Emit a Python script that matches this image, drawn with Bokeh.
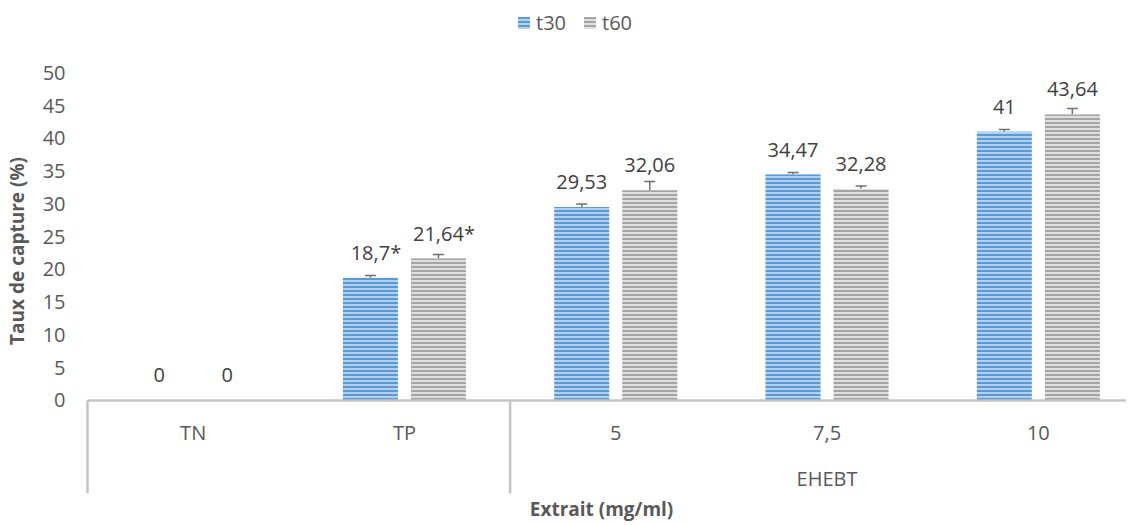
from bokeh.plotting import figure
from bokeh.models import (ColumnDataSource, Range1d, FixedTicker, Whisker, TeeHead,
                          Legend, LegendItem)
from bokeh.core.properties import value
from bokeh.embed import file_html
from bokeh.resources import INLINE

# ---------------- data ----------------
categories = ["TN", "TP", "5", "7,5", "10"]
groups = ["", "", "EHEBT", "EHEBT", "EHEBT"]
t30 = [0, 18.7, 29.53, 34.47, 41]
t60 = [0, 21.64, 32.06, 32.28, 43.64]
t30_err = [0, 0.37, 0.45, 0.30, 0.35]
t60_err = [0, 0.64, 1.35, 0.42, 0.90]
t30_mark = ["", "*", "", "", ""]
t60_mark = ["", "*", "", "", ""]
y_ticks = [0, 5, 10, 15, 20, 25, 30, 35, 40, 45, 50]

FONT = "Open Sans"
TXT = "#595959"
LBL = "#404040"
AXC = "#c4c4c4"

n = len(categories)
centers = [i + 0.5 for i in range(n)]
off = 0.161
bw = 0.26

def fmt(v):
    return f"{v:g}".replace(".", ",")

def make_src(vals, errs, marks, sign):
    return ColumnDataSource(dict(
        x=[c + sign * off for c in centers],
        top=vals,
        upper=[v + e for v, e in zip(vals, errs)],
        has_err=[e > 0 for e in errs],
        label=[fmt(v) + m for v, m in zip(vals, marks)],
        xo=[5.5 if m else 0 for m in marks],
    ))

s30 = make_src(t30, t30_err, t30_mark, -1)
s60 = make_src(t60, t60_err, t60_mark, +1)

frame_left = 82
px_per_unit = 211.3
FW = 1045
x0 = -(88 - frame_left) / px_per_unit
x1 = x0 + FW / px_per_unit

p = figure(frame_width=FW, frame_height=485,
           x_range=Range1d(x0, x1), y_range=Range1d(-14.2, 59.8),
           output_backend="svg", toolbar_location=None,
           min_border_left=0, min_border_right=0, min_border_top=8, min_border_bottom=0)
p.outline_line_color = None
p.xgrid.visible = False
p.ygrid.visible = False
p.background_fill_color = "white"
p.border_fill_color = "white"

# y axis
ya = p.yaxis[0]
ya.ticker = FixedTicker(ticks=y_ticks)
ya.axis_line_color = None
ya.major_tick_line_color = None
ya.minor_tick_line_color = None
ya.major_label_text_font = FONT
ya.major_label_text_font_size = "20px"
ya.major_label_text_color = TXT
ya.major_label_standoff = 10
ya.axis_label = "Taux de capture (%)"
ya.axis_label_text_font = FONT
ya.axis_label_text_font_size = "19px"
ya.axis_label_text_font_style = "bold"
ya.axis_label_text_color = TXT
ya.axis_label_standoff = 10

# x axis (title only)
xa = p.xaxis[0]
xa.ticker = FixedTicker(ticks=[])
xa.axis_line_color = None
xa.major_tick_line_color = None
xa.minor_tick_line_color = None
xa.axis_label = "Extrait  (mg/ml)"
xa.axis_label_text_font = FONT
xa.axis_label_text_font_size = "19px"
xa.axis_label_text_font_style = "bold"
xa.axis_label_text_color = TXT
xa.axis_label_standoff = 2

# bars
r30 = p.vbar(x="x", top="top", width=bw, bottom=0, source=s30,
             fill_color="#b3d0ee", line_color=None,
             hatch_pattern="horizontal_line", hatch_color="#5b9bd5",
             hatch_scale=4, hatch_weight=2)
r60 = p.vbar(x="x", top="top", width=bw, bottom=0, source=s60,
             fill_color="#dedede", line_color=None,
             hatch_pattern="horizontal_line", hatch_color="#a5a5a5",
             hatch_scale=4, hatch_weight=2)

# error bars
for s in (s30, s60):
    idx = [i for i, h in enumerate(s.data["has_err"]) if h]
    es = ColumnDataSource(dict(x=[s.data["x"][i] for i in idx],
                               base=[s.data["top"][i] for i in idx],
                               upper=[s.data["upper"][i] for i in idx]))
    w = Whisker(source=es, base="x", lower="base", upper="upper", dimension="height",
                line_color="#6f6f6f", line_width=1.5,
                upper_head=TeeHead(size=11, line_color="#6f6f6f", line_width=1.5),
                lower_head=None)
    p.add_layout(w)

# value labels
for s in (s30, s60):
    p.text(x="x", y="top", text="label", source=s, text_align="center",
           text_baseline="middle", y_offset=-25, x_offset="xo",
           text_font=value(FONT), text_font_size="20px", text_color=LBL)

# category axis line at 0 and group separators
p.segment(x0=[0], y0=[0], x1=[n], y1=[0], line_color=AXC, line_width=2.5)
bounds = [0] + [i for i in range(1, n) if groups[i] != groups[i - 1]] + [n]
p.segment(x0=bounds, y0=[0] * len(bounds), x1=bounds, y1=[-14.2] * len(bounds),
          line_color=AXC, line_width=2.5)

# category labels
p.text(x=centers, y=[-4.9] * n, text=categories, text_align="center",
       text_baseline="middle", text_font=value(FONT), text_font_size="20px",
       text_color=TXT)
# group labels
glabels = []
for g in dict.fromkeys(groups):
    if not g:
        continue
    ids = [i for i, gg in enumerate(groups) if gg == g]
    glabels.append(((min(ids) + max(ids) + 1) / 2, g))
p.text(x=[g[0] for g in glabels], y=[-11.9] * len(glabels), text=[g[1] for g in glabels],
       text_align="center", text_baseline="middle", text_font=value(FONT),
       text_font_size="20px", text_color=TXT)

legend = Legend(items=[LegendItem(label="t30", renderers=[r30]),
                       LegendItem(label="t60", renderers=[r60])],
                orientation="horizontal", location=(435, 457),
                label_text_font=FONT, label_text_font_size="20px",
                label_text_color=TXT, glyph_width=15, glyph_height=15,
                label_standoff=5, spacing=16, padding=0, margin=0,
                border_line_color=None, background_fill_alpha=0)
p.add_layout(legend)

open("out.html", "w").write(file_html(p, INLINE))
